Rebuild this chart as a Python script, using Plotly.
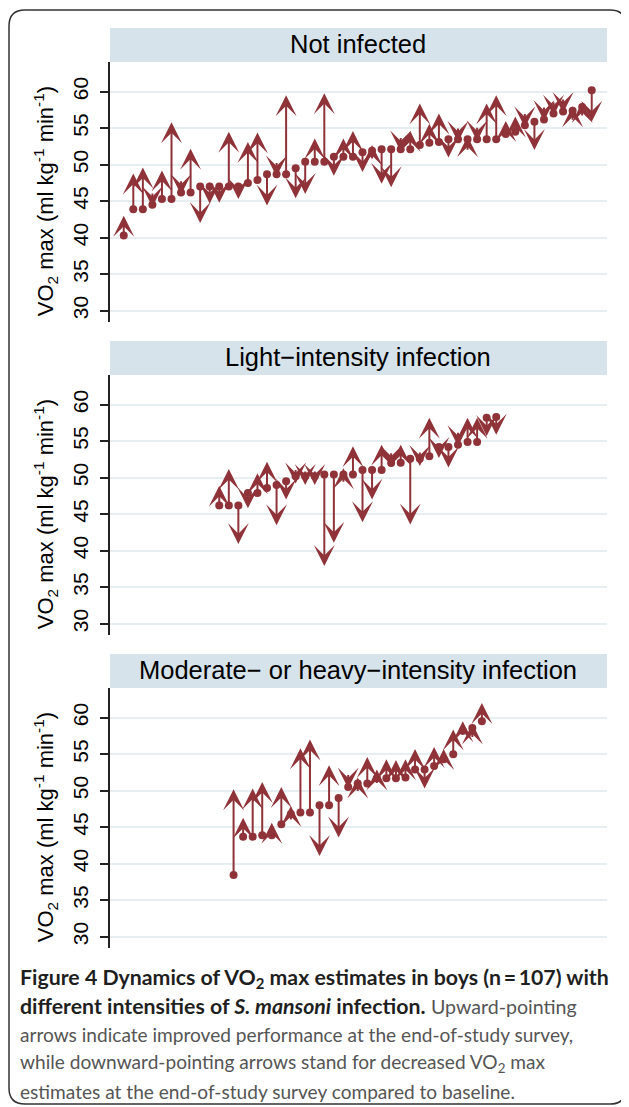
import plotly.graph_objects as go

# page body keeps its default 8px margin, so the figure is laid out in
# reference pixels shifted by OFF
OFF = 8
W, H = 629 - OFF, 1107 - OFF
RED = "#8f3339"
STRIP = "#d7e3ea"
GRID = "#e7eef2"

strip_titles = [
    "Not infected",
    "Light\u2212intensity infection",
    "Moderate\u2212 or heavy\u2212intensity infection",
]

# VO2 max at baseline (circle) and at end of study (arrow tip), sorted by baseline
notinf_base = [40.3, 43.9, 43.9, 44.5, 45.3, 45.3, 46.2, 46.2, 47.0, 47.0,
               47.0, 47.0, 47.0, 47.5, 47.9, 48.7, 48.7, 48.7, 49.5, 50.4,
               50.4, 50.4, 51.1, 51.1, 51.1, 51.7, 51.9, 52.1, 52.1, 52.1,
               52.1, 52.7, 53.0, 53.1, 53.5, 53.5, 53.5, 53.5, 53.5, 53.5,
               54.2, 54.5, 55.4, 55.9, 56.2, 57.0, 57.3, 57.4, 57.9, 60.2]
notinf_end = [43.0, 48.8, 49.6, 44.2, 49.2, 55.8, 45.9, 52.2, 42.0, 44.7,
              44.8, 54.5, 45.3, 53.1, 54.4, 44.4, 48.4, 59.5, 45.4, 46.0,
              53.6, 59.8, 48.5, 53.6, 54.6, 49.0, 52.7, 47.4, 46.9, 51.8,
              54.6, 58.4, 55.6, 57.0, 51.0, 53.1, 53.9, 53.2, 58.4, 59.5,
              56.0, 56.6, 55.1, 52.0, 56.0, 56.7, 57.1, 58.0, 58.6, 55.9]

light_base = [46.2, 46.2, 46.2, 47.9, 47.9, 48.6, 49.0, 49.5, 50.2, 50.2,
              50.2, 50.45, 50.45, 50.45, 50.45, 51.05, 51.05, 51.05, 52.0, 52.05,
              52.6, 52.6, 52.95, 54.2, 54.2, 54.5, 54.9, 54.9, 58.2, 58.3]
light_end = [48.9, 51.2, 40.9, 45.8, 50.6, 52.2, 43.5, 47.0, 49.2, 49.0,
             49.0, 37.9, 41.1, 51.3, 54.3, 43.9, 47.0, 54.5, 51.5, 54.5,
             43.6, 51.6, 58.2, 52.7, 51.4, 54.3, 58.2, 58.2, 55.7, 55.9]

mod_base = [38.45, 43.7, 43.7, 43.9, 43.9, 45.4, 46.8, 47.0, 47.0, 48.0,
            48.0, 49.0, 50.5, 51.0, 51.0, 51.7, 51.7, 51.7, 51.8, 52.9,
            52.9, 53.4, 54.3, 55.0, 58.2, 58.6, 59.5]
mod_end = [50.2, 46.3, 50.3, 51.2, 45.6, 50.5, 47.9, 55.8, 57.0, 41.05,
           53.5, 43.6, 50.3, 51.8, 54.6, 52.9, 54.3, 54.2, 54.3, 55.7,
           50.3, 56.0, 55.7, 58.4, 59.5, 59.2, 62.0]

y_ticks = [30, 35, 40, 45, 50, 55, 60]

groups = [(notinf_base, notinf_end), (light_base, light_end), (mod_base, mod_end)]

Y_RANGE = [28.45, 64.07]
PLOT_PX = 260                      # height of each panel's plot area
PX_PER_UNIT = PLOT_PX / (Y_RANGE[1] - Y_RANGE[0])
HEAD_PX = 15                       # arrows shorter than this still get a full head


def fx(x):
    return (x - OFF) / W


def fy(y):
    return 1 - (y - OFF) / H


fig = go.Figure()
annotations = []
shapes = []

for k, (base, end) in enumerate(groups):
    n = len(base)
    xs = [i + 1 - (n + 1) / 2 for i in range(n)]
    sfx = "" if k == 0 else str(k + 1)
    xr, yr = "x" + sfx, "y" + sfx
    off = 313 * k

    fig.add_trace(go.Scatter(
        x=xs, y=base, mode="markers", xaxis=xr, yaxis=yr,
        marker=dict(size=8, color=RED), hoverinfo="skip", showlegend=False,
    ))
    for x, b, e in zip(xs, base, end):
        arrow = dict(
            x=x, y=e, xref=xr, yref=yr, text="", showarrow=True,
            arrowhead=3, arrowsize=1.75, arrowwidth=2, arrowcolor=RED,
            standoff=0, startstandoff=0,
        )
        if abs(e - b) * PX_PER_UNIT >= HEAD_PX:
            arrow.update(ax=x, ay=b, axref=xr, ayref=yr)
        else:
            # tiny change: keep the tip at the end value, tail offset in pixels
            arrow.update(ax=0, ay=HEAD_PX if e > b else -HEAD_PX)
        annotations.append(arrow)

    fig.update_layout({
        ("xaxis" + sfx): dict(
            domain=[fx(110), fx(607)], range=[-25.94, 26.1], visible=False,
            anchor=yr,
        ),
        ("yaxis" + sfx): dict(
            domain=[fy(322 + off), fy(62 + off)], range=Y_RANGE,
            anchor=xr, tickvals=y_ticks, tickangle=-90, ticklabelstandoff=4,
            showgrid=True, gridcolor=GRID, gridwidth=2,
            showline=True, linecolor="#222", linewidth=1.5,
            ticks="outside", ticklen=8, tickwidth=1.5, tickcolor="#222",
            tickfont=dict(size=21, color="black", family="Liberation Sans"),
            zeroline=False, fixedrange=True,
        ),
    })

    # strip header
    shapes.append(dict(
        type="rect", xref="paper", yref="paper", layer="below",
        x0=fx(110), x1=fx(607), y0=fy(62 + off), y1=fy(28 + off),
        fillcolor=STRIP, line=dict(width=0),
    ))
    annotations.append(dict(
        x=fx(358), y=fy(44 + off), xref="paper", yref="paper",
        text=strip_titles[k], showarrow=False, xanchor="center", yanchor="middle",
        font=dict(size=25.5, color="black", family="Liberation Sans"),
    ))
    # y axis title
    annotations.append(dict(
        x=fx(45), y=45, xref="paper", yref=yr, textangle=-90,
        text="VO<sub>2</sub> max (ml kg<sup>-1</sup> min<sup>-1</sup>)",
        showarrow=False, xanchor="center", yanchor="middle",
        font=dict(size=22, color="black", family="Liberation Sans"),
    ))

# caption
dark = "#1f1f1f"
grey = "#555555"
caption = [
    "<b>Figure 4 Dynamics of VO<sub>2</sub> max estimates in boys (n\u2009=\u2009107) with</b>",
    "<b>different intensities of <i>S. mansoni</i> infection.</b> "
    f"<span style='color:{grey};font-size:19.6px'>Upward-pointing</span>",
    "arrows indicate improved performance at the end-of-study survey,",
    "while downward-pointing arrows stand for decreased VO<sub>2</sub> max",
    "estimates at the end-of-study survey compared to baseline.",
]
cap_y = [978, 1006, 1034, 1063, 1091]
for i, (line, yy) in enumerate(zip(caption, cap_y)):
    annotations.append(dict(
        x=fx(18), y=fy(yy), xref="paper", yref="paper", text=line,
        showarrow=False, xanchor="left", yanchor="middle",
        font=dict(size=21.3 if i < 2 else 19.1, color=dark if i < 2 else grey,
                  family="Lato"),
    ))

# rounded frame around the figure (left edge sits at the figure border)
r = 16
x0, x1, y0, y1 = OFF + 1, 626, 10, 1104
path = (
    f"M {fx(x0)},{fy(y0 + r)} L {fx(x0)},{fy(y1 - r)} "
    f"Q {fx(x0)},{fy(y1)} {fx(x0 + r)},{fy(y1)} L {fx(x1 - r)},{fy(y1)} "
    f"Q {fx(x1)},{fy(y1)} {fx(x1)},{fy(y1 - r)} L {fx(x1)},{fy(y0 + r)} "
    f"Q {fx(x1)},{fy(y0)} {fx(x1 - r)},{fy(y0)} L {fx(x0 + r)},{fy(y0)} "
    f"Q {fx(x0)},{fy(y0)} {fx(x0)},{fy(y0 + r)} Z"
)
shapes.append(dict(type="path", xref="paper", yref="paper", path=path,
                   line=dict(color="#333", width=1.5)))

fig.update_layout(
    width=W, height=H, margin=dict(l=0, r=0, t=0, b=0),
    paper_bgcolor="white", plot_bgcolor="white",
    annotations=annotations, shapes=shapes, showlegend=False,
)

fig.write_html("out.html")
